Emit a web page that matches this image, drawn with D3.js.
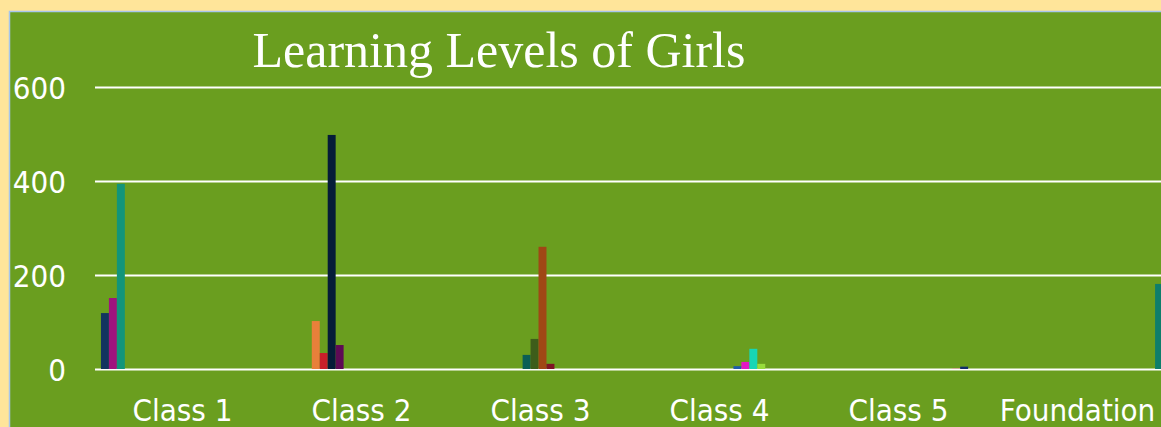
<!DOCTYPE html>
<html>
<head>
<meta charset="utf-8">
<script src="https://cdn.jsdelivr.net/npm/d3@7"></script>
<style>
  body { margin: 0; background: #ffe59a; }
  svg { display: block; }
  .lbl { font-family: "DejaVu Sans Condensed", "DejaVu Sans", sans-serif; font-stretch: condensed; fill: #fff; }
</style>
</head>
<body>
<svg></svg>
<script>
var width = 1161;
var height = 427;

// categories along the x axis
var categories = ["Class 1", "Class 2", "Class 3", "Class 4", "Class 5", "Foundation"];

// each class owns 4 series slots (Foundation only one is visible)
var class1Values = [119, 151, 394, 0];
var class2Values = [102, 34, 498, 51];
var class3Values = [30, 64, 260, 11];
var class4Values = [6, 15, 43, 11];
var class5Values = [0, 1, 5, 0];
var foundationValues = [181];

var seriesColors = [
  "#12345f", "#a0137e", "#12957a", "#6b9e1f",
  "#e8803a", "#c8202a", "#051c38", "#5e0a55",
  "#0b5e55", "#3e5d1a", "#a04715", "#7e1424",
  "#1e5baa", "#e319c4", "#17d6b5", "#98dc3c",
  "#6b9e1f", "#f08aa0", "#102d6b", "#6b9e1f",
  "#0e7e6b"
];

var tickValues = [0, 200, 400, 600];

var perCategory = [class1Values, class2Values, class3Values, class4Values, class5Values, foundationValues];
var nSeries = seriesColors.length;

var bars = [];
perCategory.forEach(function(vals, ci) {
  vals.forEach(function(v, j) {
    bars.push({cat: categories[ci], series: ci * 4 + j, value: v});
  });
});

var svg = d3.select("svg")
  .attr("width", width)
  .attr("height", height);

svg.append("rect")
  .attr("width", width).attr("height", height)
  .attr("fill", "#ffe59a");

svg.append("rect")
  .attr("x", 9.5).attr("y", 11.5)
  .attr("width", width).attr("height", height)
  .attr("fill", "#6a9e1f")
  .attr("stroke", "#a8c6ec")
  .attr("stroke-width", 1.5);

var x0 = d3.scaleBand()
  .domain(categories)
  .range([95, 95 + 6 * 179]);

var x1 = d3.scaleBand()
  .domain(d3.range(nSeries))
  .range([0, x0.bandwidth()])
  .paddingInner(0)
  .paddingOuter(0.75);

var y = d3.scaleLinear()
  .domain([0, 600])
  .range([369, 87]);

// gridlines + y labels
var yAxis = svg.append("g")
  .attr("transform", "translate(95,0)")
  .call(d3.axisLeft(y).tickValues(tickValues).tickSizeInner(-(width - 95)).tickSizeOuter(0).tickPadding(30));
yAxis.select(".domain").remove();
yAxis.selectAll("line").attr("stroke", "#fff").attr("stroke-width", 2);
yAxis.selectAll("text")
  .attr("class", "lbl")
  .attr("x", -29)
  .style("font-size", "31px")
  .attr("dy", "0.36em");

svg.append("g").selectAll("rect")
  .data(bars.filter(function(d) { return d.value > 0; }))
  .enter().append("rect")
    .attr("x", function(d) { return x0(d.cat) + x1(d.series); })
    .attr("width", x1.bandwidth())
    .attr("y", function(d) { return y(d.value); })
    .attr("height", function(d) { return y(0) - y(d.value); })
    .attr("fill", function(d) { return seriesColors[d.series]; });

// x labels
var xAxis = svg.append("g")
  .attr("transform", "translate(-2,369)")
  .call(d3.axisBottom(x0).tickSize(0).tickPadding(0));
xAxis.select(".domain").remove();
xAxis.selectAll("text")
  .attr("class", "lbl")
  .attr("y", 52)
  .attr("dy", 0)
  .style("font-size", "31px");

svg.append("text")
  .attr("x", 499)
  .attr("y", 67)
  .attr("text-anchor", "middle")
  .style("font-family", "'Liberation Serif', 'Times New Roman', serif")
  .style("font-size", "50px")
  .attr("fill", "#fff")
  .text("Learning Levels of Girls");
</script>
</body>
</html>
